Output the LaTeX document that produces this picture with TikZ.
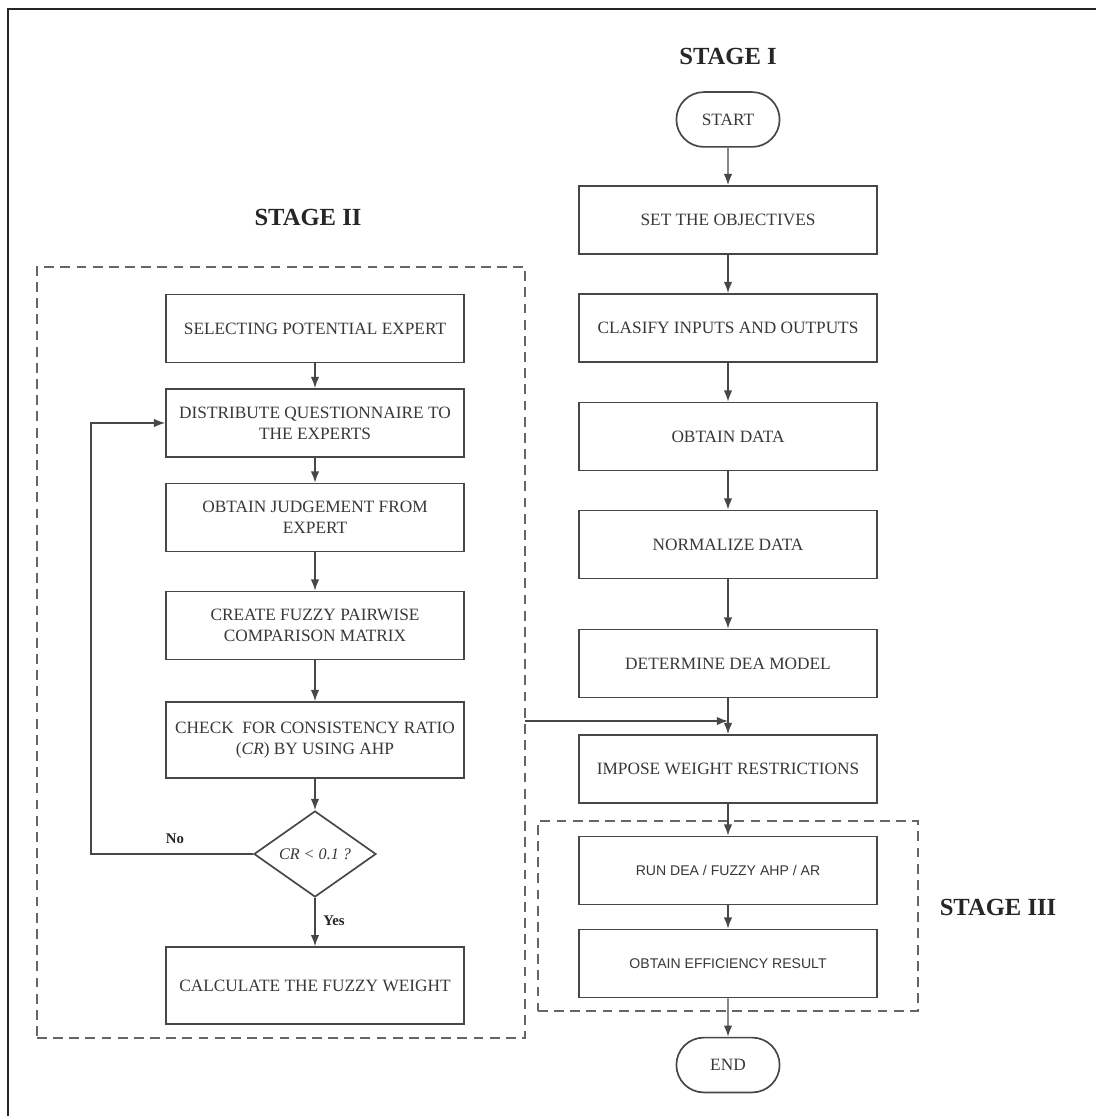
\documentclass[tikz,border=0pt]{standalone}
\usepackage{fontspec}
\setmainfont{Liberation Serif}
\newfontfamily\sansf{Liberation Sans}
\usetikzlibrary{arrows.meta,shapes.geometric,shapes.misc}
\definecolor{ln}{gray}{0.28}
\definecolor{tx}{gray}{0.22}
\definecolor{dl}{gray}{0.40}
\tikzset{
  box/.style={draw=ln, line width=1.2pt, rectangle, minimum width=7.45cm, minimum height=1.7cm,
    align=center, text=tx, font=\fontsize{12.3}{14.8}\selectfont, inner sep=2pt},
  sbox/.style={box, font=\sansf\fontsize{10}{12}\selectfont},
  term/.style={draw=ln, line width=1.2pt, rounded rectangle, minimum width=2.72cm, minimum height=1.37cm,
    text=tx, font=\fontsize{12.3}{14}\selectfont, inner sep=2pt},
  decis/.style={draw=ln, line width=1.2pt, diamond, minimum width=3.05cm, minimum height=2.15cm,
    inner sep=0pt, aspect=1.42, text=tx, font=\itshape\fontsize{11.5}{13}\selectfont},
  dbox/.style={draw=dl, line width=1.2pt, dash pattern=on 7pt off 4.5pt, rectangle, inner sep=0pt, outer sep=0pt},
  arr/.style={draw=ln, line width=1pt, -{Latex[length=8pt,width=6pt]}},
  stagelab/.style={font=\bfseries\fontsize{17.5}{20}\selectfont, text=black!85},
  lab/.style={font=\bfseries\fontsize{10.5}{12}\selectfont, text=black!85}
}
\begin{document}
\begin{tikzpicture}[x=0.025cm,y=-0.025cm]
\clip (0,0) rectangle (1096,1116);
\fill[white] (0,0) rectangle (1096,1116);
% outer frame (open at right and bottom)
\draw[line width=2pt, black!85] (8,1140) -- (8,9) -- (1120,9);

% labels
\node[stagelab] (st1) at (728,56) {STAGE I};
\node[stagelab] (st2) at (308,217) {STAGE II};
\node[stagelab] (st3) at (998,907) {STAGE III};

% dashed group boxes
\node[dbox, minimum width=12.2cm, minimum height=19.275cm] (s2) at (281,652.5) {};
\node[dbox, minimum width=9.5cm, minimum height=4.75cm] (s3) at (728,916) {};

% stage I column
\node[term] (start) at (728,119.5) {START};
\node[box] (set) at (728,220) {SET THE OBJECTIVES};
\node[box] (clas) at (728,328) {CLASIFY INPUTS AND OUTPUTS};
\node[box] (obt) at (728,436.5) {OBTAIN DATA};
\node[box] (norm) at (728,544.5) {NORMALIZE DATA};
\node[box] (det) at (728,663.5) {DETERMINE DEA MODEL};
\node[box] (imp) at (728,769) {IMPOSE WEIGHT RESTRICTIONS};
\node[sbox] (run) at (728,870.5) {RUN DEA / FUZZY AHP / AR};
\node[sbox] (eff) at (728,963.5) {OBTAIN EFFICIENCY RESULT};
\node[term] (end) at (728,1065) {END};

% stage II column
\node[box] (sel) at (315,328.5) {SELECTING POTENTIAL EXPERT};
\node[box] (dist) at (315,423) {DISTRIBUTE QUESTIONNAIRE TO\\THE EXPERTS};
\node[box] (judg) at (315,517.5) {OBTAIN JUDGEMENT FROM\\EXPERT};
\node[box] (fpc) at (315,625.5) {CREATE FUZZY PAIRWISE\\COMPARISON MATRIX};
\node[box, minimum height=1.9cm] (chk) at (315,740) {CHECK\ \ FOR CONSISTENCY RATIO\\(\textit{CR}) BY USING AHP};
\node[decis] (dia) at (315,854) {CR < 0.1 ?};
\node[box, minimum height=1.92cm] (calc) at (315,985.5) {CALCULATE THE FUZZY WEIGHT};

\node[lab] (no) at (175,839) {No};
\node[lab] (yes) at (334,921) {Yes};

% connectors stage I
\draw[arr] (start) -- (set);
\draw[arr] (set) -- (clas);
\draw[arr] (clas) -- (obt);
\draw[arr] (obt) -- (norm);
\draw[arr] (norm) -- (det);
\draw[arr] (det) -- (imp);
\draw[arr] (imp) -- (run);
\draw[arr] (run) -- (eff);
\draw[arr] (eff) -- (end);

% connectors stage II
\draw[arr] (sel) -- (dist);
\draw[arr] (dist) -- (judg);
\draw[arr] (judg) -- (fpc);
\draw[arr] (fpc) -- (chk);
\draw[arr] (chk) -- (dia);
\draw[arr] (dia) -- (calc);
\coordinate (fb) at (91,854);
\draw[arr] (dia.west) -- (fb) |- (dist.west);

% link stage II -> stage I
\coordinate (j) at (728,721);
\draw[arr] (s2.east |- j) -- (j);
\end{tikzpicture}
\end{document}
